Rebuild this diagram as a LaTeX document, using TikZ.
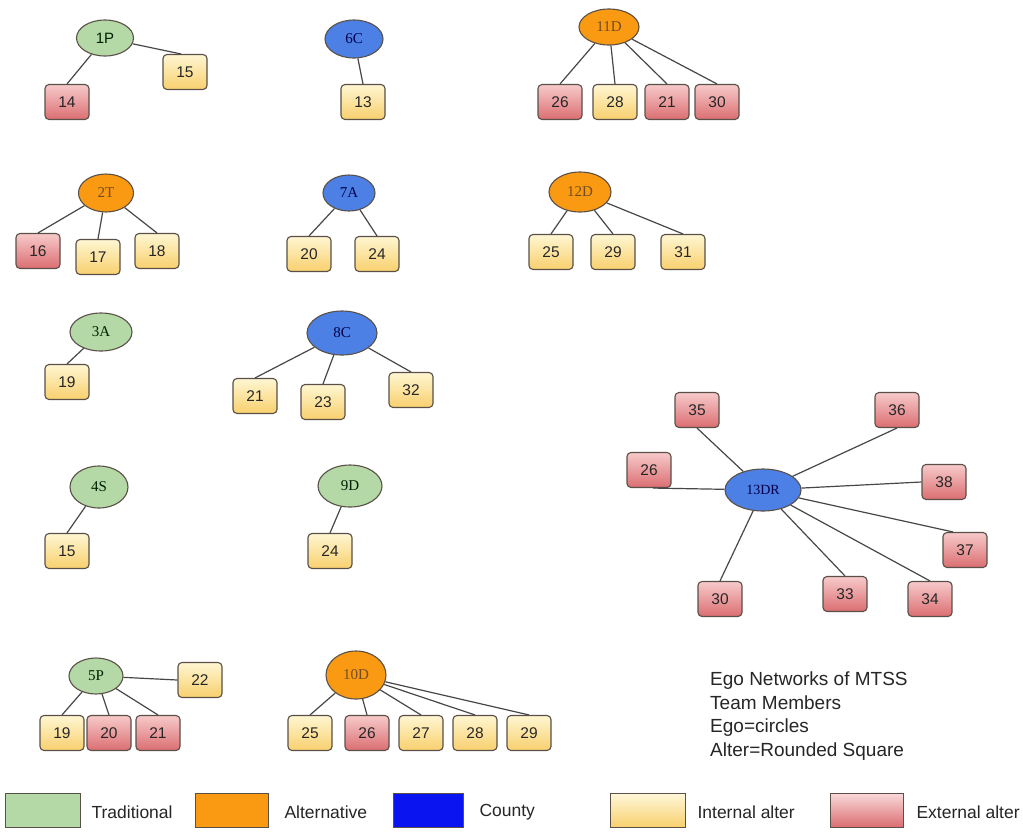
\documentclass[tikz,border=0pt]{standalone}
\usepackage{fontspec}
\setmainfont{Liberation Serif}
\setsansfont{Liberation Sans}
\usetikzlibrary{shapes.geometric}
\definecolor{grn}{HTML}{B4D9A6}
\definecolor{org}{HTML}{FA9A12}
\definecolor{blu}{HTML}{4C80E4}
\definecolor{lgblu}{HTML}{0A14F0}
\definecolor{yl1}{HTML}{FFF6D2}
\definecolor{yl2}{HTML}{F8D06E}
\definecolor{rd1}{HTML}{F7CACA}
\definecolor{rd2}{HTML}{DB6E72}
\definecolor{bline}{HTML}{5A5048}
\definecolor{eline}{HTML}{474747}
\tikzset{
  altbox/.style={rectangle, rounded corners=4pt, draw=bline, line width=1.1pt,
    minimum width=44pt, minimum height=35pt, inner sep=0pt,
    font=\sffamily\fontsize{15.5}{15.5}\selectfont, text=black!85},
  intalt/.style={altbox, top color=yl1, bottom color=yl2},
  extalt/.style={altbox, top color=rd1, bottom color=rd2},
  ego/.style={ellipse, draw=bline, line width=1.1pt, inner sep=0pt,
    font=\rmfamily\fontsize{15}{15}\selectfont},
  trad/.style={ego, fill=grn, text=black!80!green!60!black},
  altr/.style={ego, fill=org, text=brown!60!black},
  cnty/.style={ego, fill=blu, text=blue!30!black},
  edge/.style={draw=eline, line width=1.2pt},
  legbox/.style={rectangle, draw=bline, line width=1pt, minimum width=73pt, minimum height=34pt},
  legtxt/.style={anchor=west, font=\sffamily\fontsize{17.5}{17.5}\selectfont, text=black!85},
}
\begin{document}
\begin{tikzpicture}[x=1pt,y=-1pt]
\useasboundingbox[fill=white] (0,0) rectangle (1023,839);
% 1P
\node[trad, minimum width=57pt, minimum height=36pt, font=\sffamily\fontsize{15}{15}\selectfont] (e1) at (105,38) {1P};
\node[extalt] (a14) at (67,102) {14};
\node[intalt] (a15a) at (185,72) {15};
\draw[edge] (e1) -- (a14.north);
\draw[edge] (e1) -- ([xshift=-4pt]a15a.north);
% 6C
\node[cnty, minimum width=58pt, minimum height=38pt] (e6) at (354,39) {6C};
\node[intalt] (a13) at (363,102) {13};
\draw[edge] (e6) -- (a13.north);
% 11D
\node[altr, minimum width=60pt, minimum height=36pt] (e11) at (609,27) {11D};
\node[extalt] (a26a) at (560,102) {26};
\node[intalt] (a28a) at (615,102) {28};
\node[extalt] (a21a) at (667,102) {21};
\node[extalt] (a30a) at (717,102) {30};
\draw[edge] (e11) -- (a26a.north);
\draw[edge] (e11) -- (a28a.north);
\draw[edge] (e11) -- (a21a.north);
\draw[edge] (e11) -- (a30a.north);
% 2T
\node[altr, minimum width=55pt, minimum height=38pt] (e2) at (106,193) {2T};
\node[extalt] (a16) at (38,251) {16};
\node[intalt] (a17) at (98,257) {17};
\node[intalt] (a18) at (157,251) {18};
\draw[edge] (e2) -- (a16.north);
\draw[edge] (e2) -- (a17.north);
\draw[edge] (e2) -- (a18.north);
% 7A
\node[cnty, minimum width=52pt, minimum height=36pt] (e7) at (349,193) {7A};
\node[intalt] (a20a) at (309,254) {20};
\node[intalt] (a24a) at (377,254) {24};
\draw[edge] (e7) -- (a20a.north);
\draw[edge] (e7) -- (a24a.north);
% 12D
\node[altr, minimum width=62pt, minimum height=40pt] (e12) at (580,192) {12D};
\node[intalt] (a25a) at (551,252) {25};
\node[intalt] (a29a) at (613,252) {29};
\node[intalt] (a31) at (683,252) {31};
\draw[edge] (e12) -- (a25a.north);
\draw[edge] (e12) -- (a29a.north);
\draw[edge] (e12) -- (a31.north);
% 3A
\node[trad, minimum width=62pt, minimum height=38pt] (e3) at (101,332) {3A};
\node[intalt] (a19a) at (67,382) {19};
\draw[edge] (e3) -- (a19a.north);
% 8C
\node[cnty, minimum width=70pt, minimum height=44pt] (e8) at (342,333) {8C};
\node[intalt] (a21b) at (255,396) {21};
\node[intalt] (a23) at (323,402) {23};
\node[intalt] (a32) at (411,390) {32};
\draw[edge] (e8) -- (a21b.north);
\draw[edge] (e8) -- (a23.north);
\draw[edge] (e8) -- (a32.north);
% 4S
\node[trad, minimum width=58pt, minimum height=42pt] (e4) at (99,487) {4S};
\node[intalt] (a15b) at (67,551) {15};
\draw[edge] (e4) -- (a15b.north);
% 9D
\node[trad, minimum width=64pt, minimum height=42pt] (e9) at (350,486) {9D};
\node[intalt] (a24b) at (330,551) {24};
\draw[edge] (e9) -- (a24b.north);
% 5P
\node[trad, minimum width=54pt, minimum height=36pt] (e5) at (96,676) {5P};
\node[intalt] (a19b) at (62,733) {19};
\node[extalt] (a20b) at (109,733) {20};
\node[extalt] (a21c) at (158,733) {21};
\node[intalt] (a22) at (200,680) {22};
\draw[edge] (e5) -- (a19b.north);
\draw[edge] (e5) -- (a20b.north);
\draw[edge] (e5) -- (a21c.north);
\draw[edge] (e5) -- (a22.west);
% 10D
\node[altr, minimum width=60pt, minimum height=48pt] (e10) at (356,675) {10D};
\node[intalt] (a25b) at (310,733) {25};
\node[extalt] (a26b) at (367,733) {26};
\node[intalt] (a27) at (421,733) {27};
\node[intalt] (a28b) at (475,733) {28};
\node[intalt] (a29b) at (529,733) {29};
\draw[edge] (e10) -- (a25b.north);
\draw[edge] (e10) -- (a26b.north);
\draw[edge] (e10) -- (a27.north);
\draw[edge] (e10) -- (a28b.north);
\draw[edge] (e10) -- (a29b.north);
% 13DR
\node[cnty, minimum width=76pt, minimum height=42pt, font=\rmfamily\fontsize{14}{14}\selectfont] (e13) at (763,490) {13DR};
\node[extalt] (a35) at (697,410) {35};
\node[extalt] (a36) at (897,410) {36};
\node[extalt] (a26c) at (649,470) {26};
\node[extalt] (a38) at (944,482) {38};
\node[extalt] (a37) at (965,550) {37};
\node[extalt] (a30b) at (720,599) {30};
\node[extalt] (a33) at (845,594) {33};
\node[extalt] (a34) at (930,599) {34};
\draw[edge] (e13) -- (a35.south);
\draw[edge] (e13) -- (a36.south);
\draw[edge] (e13) -- ([xshift=4pt]a26c.south);
\draw[edge] (e13) -- (a38.west);
\draw[edge] (e13) -- ([xshift=-12pt]a37.north);
\draw[edge] (e13) -- (a30b.north);
\draw[edge] (e13) -- (a33.north);
\draw[edge] (e13) -- (a34.north);
% caption
\node[anchor=north west, align=left, inner sep=0pt, font=\sffamily\fontsize{19}{23.5}\selectfont, text=black!85] (cap) at (710,672)
  {Ego Networks of MTSS\\Team Members\\Ego=circles\\Alter=Rounded Square};
% legend
\node[legbox, fill=grn, minimum width=75pt] (l1) at (43,810) {};
\node[legtxt] (t1) at (88,812) {Traditional};
\node[legbox, fill=org] (l2) at (232,810) {};
\node[legtxt] (t2) at (281,812) {Alternative};
\node[legbox, fill=lgblu, minimum width=70pt] (l3) at (428,810) {};
\node[legtxt] (t3) at (476,812) {County};
\node[legbox, top color=yl1!80!white, bottom color=yl2, minimum width=75pt] (l4) at (648,810) {};
\node[legtxt] (t4) at (694,812) {Internal alter};
\node[legbox, top color=rd1!70!white, bottom color=rd2, minimum width=73pt] (l5) at (867,810) {};
\node[legtxt] (t5) at (913,812) {External alter};
\end{tikzpicture}
\end{document}
